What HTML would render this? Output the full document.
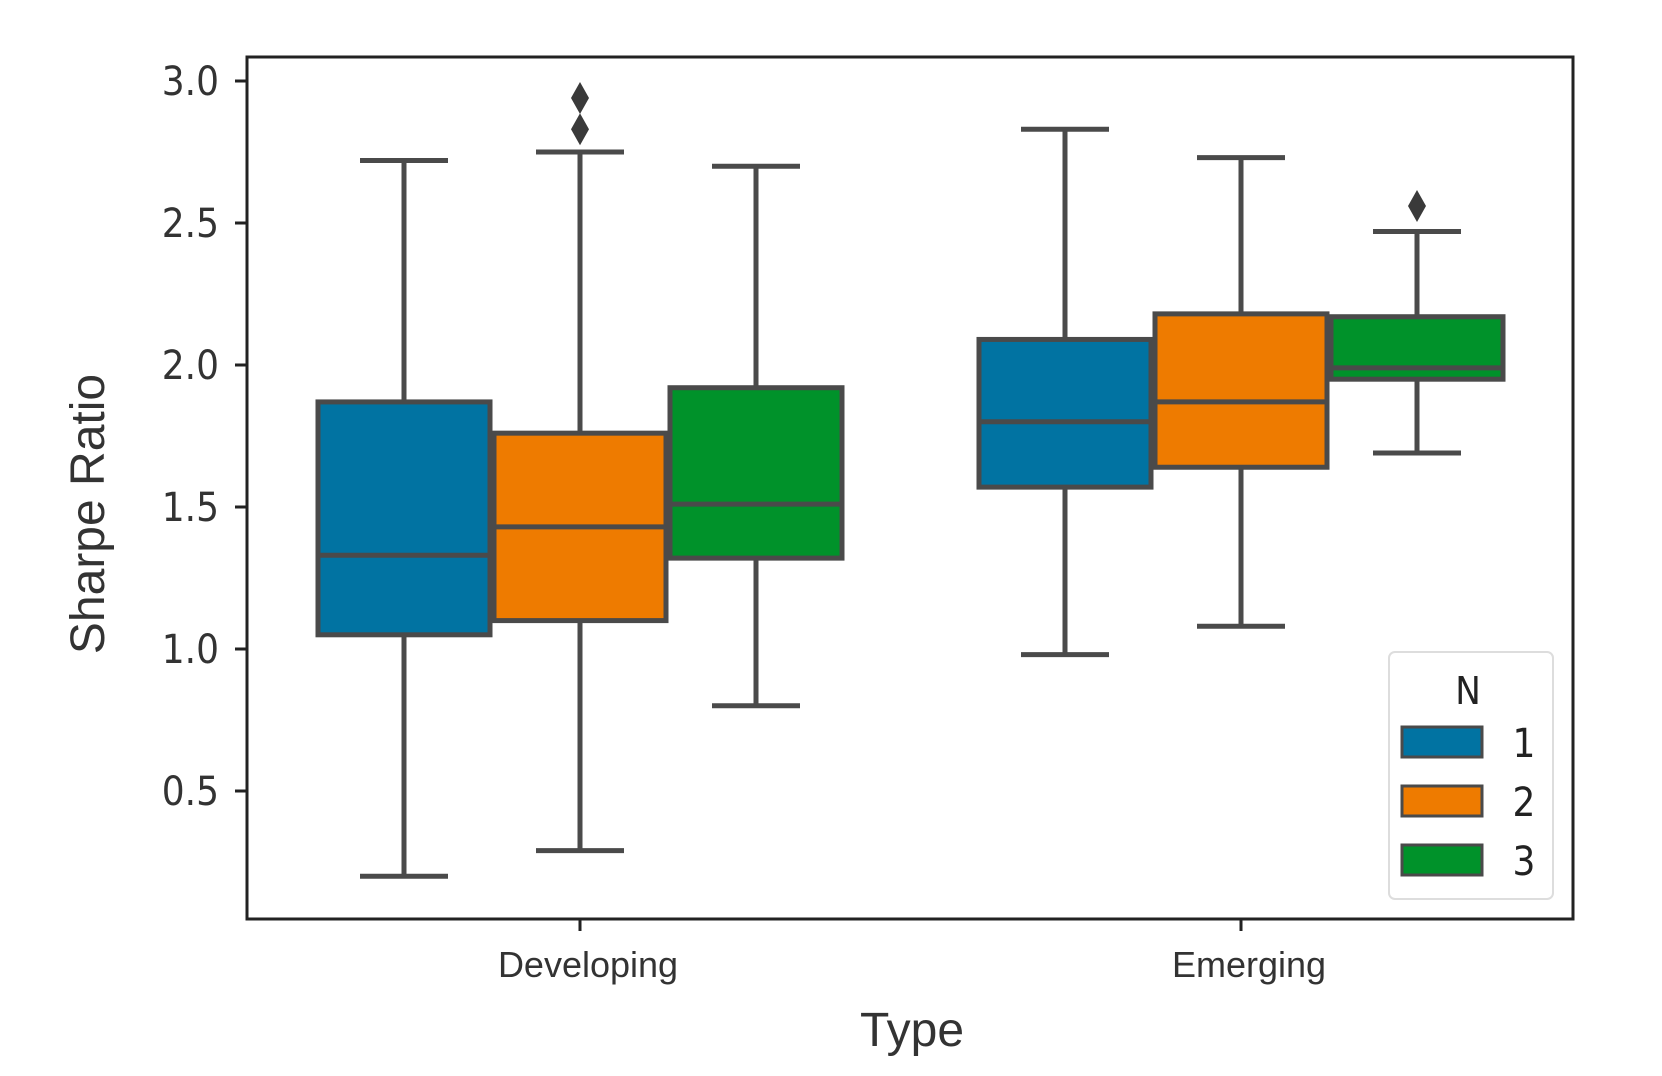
<!DOCTYPE html>
<html><head><meta charset="utf-8"><style>
html,body{margin:0;padding:0;background:#fff;}
svg{display:block;font-family:"DejaVu Sans Condensed","Liberation Sans",sans-serif;}
</style></head><body>
<svg id="chart" width="1662" height="1076" viewBox="0 0 1662 1076">
<rect x="0" y="0" width="1662" height="1076" fill="#fff"/>
<g id="plot"></g>
</svg>
<script>
const categories = ["Developing", "Emerging"];
const seriesNames = ["1", "2", "3"];
const colors = ["#0173a2", "#ee7b00", "#00922a"];
// [whiskerLow, q1, median, q3, whiskerHigh] per category per series
const series1 = [[0.20, 1.05, 1.33, 1.87, 2.72], [0.98, 1.57, 1.80, 2.09, 2.83]];
const series2 = [[0.29, 1.10, 1.43, 1.76, 2.75], [1.08, 1.64, 1.87, 2.18, 2.73]];
const series3 = [[0.80, 1.32, 1.51, 1.92, 2.70], [1.69, 1.95, 1.99, 2.17, 2.47]];
const outliers1 = [[], []];
const outliers2 = [[2.83, 2.94], []];
const outliers3 = [[], [2.56]];
const yTicks = [0.5, 1.0, 1.5, 2.0, 2.5, 3.0];
const yTickLabels = ["0.5", "1.0", "1.5", "2.0", "2.5", "3.0"];

const allSeries = [series1, series2, series3];
const allOutliers = [outliers1, outliers2, outliers3];
const NS = "http://www.w3.org/2000/svg";
const g = document.getElementById("plot");
const L = 247, R = 1573, T = 57, B = 919;
function yScale(v){ return 81 + (3 - v) * 284; }
function xCenter(ci){ return 580 + ci * 661; }
const boxW = 176;
function mk(tag, attrs, parent){
  const e = document.createElementNS(NS, tag);
  for (const k in attrs) e.setAttribute(k, attrs[k]);
  (parent || g).appendChild(e);
  return e;
}
const lc = "#4a4a4a", lw = 5;

allSeries.forEach((ser, si) => {
  ser.forEach((d, ci) => {
    const cx = xCenter(ci) + (si - 1) * boxW;
    const grp = mk("g", {});
    
    
    const [lo, q1, med, q3, hi] = d;
    mk("line", {x1: cx, x2: cx, y1: yScale(hi), y2: yScale(q3), stroke: lc, "stroke-width": lw}, grp);
    mk("line", {x1: cx, x2: cx, y1: yScale(q1), y2: yScale(lo), stroke: lc, "stroke-width": lw}, grp);
    mk("line", {x1: cx - boxW/4, x2: cx + boxW/4, y1: yScale(hi), y2: yScale(hi), stroke: lc, "stroke-width": lw}, grp);
    mk("line", {x1: cx - boxW/4, x2: cx + boxW/4, y1: yScale(lo), y2: yScale(lo), stroke: lc, "stroke-width": lw}, grp);
    mk("rect", {x: cx - boxW/2 + 2, y: yScale(q3), width: boxW - 4, height: yScale(q1) - yScale(q3), fill: colors[si], stroke: lc, "stroke-width": lw}, grp);
    mk("line", {x1: cx - boxW/2 + 2, x2: cx + boxW/2 - 2, y1: yScale(med), y2: yScale(med), stroke: lc, "stroke-width": lw}, grp);
    allOutliers[si][ci].forEach(v => {
      const y = yScale(v);
      const p = mk("polygon", {points: `${cx},${y-16} ${cx+9},${y} ${cx},${y+16} ${cx-9},${y}`, fill: "#3a3a3a"}, grp);
      
      
    });
  });
});

const fr = mk("rect", {x: L, y: T, width: R - L, height: B - T, fill: "none", stroke: "#222", "stroke-width": 3});



yTicks.forEach((v, i) => {
  const y = yScale(v);
  mk("line", {x1: L - 12, x2: L, y1: y, y2: y, stroke: "#222", "stroke-width": 3});
  const t = mk("text", {x: L - 28, y: y + 14, "text-anchor": "end", "font-size": 40, fill: "#333"});
  t.textContent = yTickLabels[i];
  
  
});
categories.forEach((c, ci) => {
  const x = xCenter(ci);
  mk("line", {x1: x, x2: x, y1: B, y2: B + 12, stroke: "#222", "stroke-width": 3});
  const t = mk("text", {x: x + 8, y: 977, "text-anchor": "middle", "font-size": 36, fill: "#333", "font-family": "Liberation Sans, sans-serif"});
  t.textContent = c;
  
  
});

const xt = mk("text", {x: 912, y: 1046, "text-anchor": "middle", "font-size": 48, fill: "#333", "font-family": "Liberation Sans, sans-serif"});
xt.textContent = "Type";


const yt = mk("text", {x: 0, y: 0, "text-anchor": "middle", "font-size": 48, fill: "#333", "font-family": "Liberation Sans, sans-serif", transform: "translate(104,514) rotate(-90)"});
yt.textContent = "Sharpe Ratio";



const lg = mk("g", {});


mk("rect", {x: 1389, y: 652, width: 164, height: 247, rx: 6, fill: "#fff", stroke: "#ddd", "stroke-width": 2}, lg);
const lt = mk("text", {x: 1468, y: 704, "text-anchor": "middle", "font-size": 38, fill: "#222"}, lg);
lt.textContent = "N";


seriesNames.forEach((n, i) => {
  const y = 727 + i * 59;
  const e = mk("g", {}, lg);
  
  
  mk("rect", {x: 1402, y: y, width: 80, height: 30, fill: colors[i], stroke: lc, "stroke-width": 3}, e);
  const t = mk("text", {x: 1524, y: y + 30, "text-anchor": "middle", "font-size": 40, fill: "#222"}, e);
  t.textContent = n;
});
</script>
</body></html>
